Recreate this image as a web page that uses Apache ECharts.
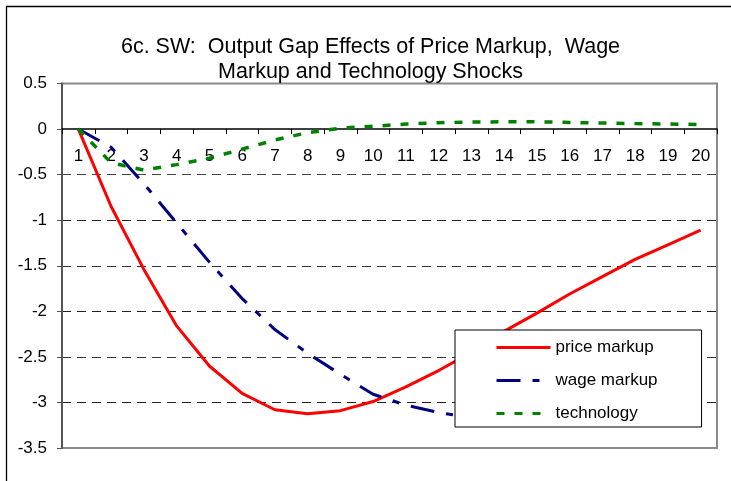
<!DOCTYPE html>
<html>
<head>
<meta charset="utf-8">
<script src="https://cdn.jsdelivr.net/npm/echarts@6/dist/echarts.min.js"></script>
<style>
  html, body { margin: 0; padding: 0; background: #fff; }
  #main { width: 731px; height: 481px; }
</style>
</head>
<body>
<div id="main"></div>
<script>
// quarters after the shock
var periods = ['1', '2', '3', '4', '5', '6', '7', '8', '9', '10',
  '11', '12', '13', '14', '15', '16', '17', '18', '19', '20'];

// output gap responses
var priceMarkup = [0, -0.85, -1.54, -2.16, -2.60, -2.90, -3.08, -3.125, -3.09, -2.99,
  -2.83, -2.65, -2.45, -2.22, -2.02, -1.81, -1.62, -1.43, -1.27, -1.11];
var wageMarkup = [0, -0.20, -0.60, -1.03, -1.46, -1.86, -2.20, -2.46, -2.69, -2.91,
  -3.03, -3.11, -3.17, -3.20, -3.20, -3.17, -3.12, -3.05, -2.97, -2.88];
var technology = [0, -0.37, -0.45, -0.39, -0.32, -0.22, -0.12, -0.04, 0.01, 0.03,
  0.055, 0.07, 0.077, 0.08, 0.08, 0.072, 0.066, 0.06, 0.055, 0.05];

var yTicks = { min: -3.5, max: 0.5, step: 0.5 };

var chart = echarts.init(document.getElementById('main'));

var font = 'Arial, "Liberation Sans", sans-serif';
var clear = 'rgba(0,0,0,0)';

// plot box in pixels
var gridTop = 83.5, gridBottom = 33;
var plotH = 481 - gridTop - gridBottom;
// lift the category axis up to the zero line
var zeroOffset = plotH * (0 - yTicks.min) / (yTicks.max - yTicks.min);

var option = {
  animation: false,
  backgroundColor: '#fff',
  textStyle: { fontFamily: font },
  title: {
    text: '6c. SW:  Output Gap Effects of Price Markup,  Wage\nMarkup and Technology Shocks',
    left: 365.5,
    top: 30,
    textAlign: 'center',
    textStyle: {
      fontFamily: font,
      fontSize: 21.5,
      fontWeight: 'normal',
      color: '#000',
      lineHeight: 24.5
    }
  },
  graphic: [{
    type: 'rect',
    shape: { x: 6.5, y: 6.5, width: 760, height: 520 },
    style: { fill: null, stroke: '#000', lineWidth: 1.3 },
    silent: true,
    z: -1
  }],
  legend: {
    orient: 'vertical',
    left: 455,
    top: 330,
    padding: [9, 44, 5, 40],
    itemWidth: 54,
    itemHeight: 14,
    itemGap: 16,
    backgroundColor: '#fff',
    borderColor: '#000',
    borderWidth: 1,
    itemStyle: { opacity: 0 },
    lineStyle: { width: 3 },
    textStyle: { fontFamily: font, fontSize: 17, color: '#000', lineHeight: 16 },
    data: ['price markup', 'wage markup', 'technology']
  },
  grid: {
    left: 62,
    right: 14,
    top: gridTop,
    bottom: gridBottom,
    show: true,
    borderColor: '#8a8a8a',
    borderWidth: 2
  },
  xAxis: {
    type: 'category',
    data: periods,
    boundaryGap: true,
    offset: -zeroOffset,
    axisLine: { onZero: false, lineStyle: { color: '#000', width: 1.5 } },
    axisTick: { show: true, length: 5, lineStyle: { color: '#000', width: 1 } },
    axisLabel: { fontFamily: font, fontSize: 17, color: '#000', margin: 19 },
    splitLine: { show: false }
  },
  yAxis: {
    type: 'value',
    min: yTicks.min,
    max: yTicks.max,
    interval: yTicks.step,
    axisLine: { show: true, lineStyle: { color: '#555', width: 2 } },
    axisTick: { show: true, length: 5, lineStyle: { color: '#555' } },
    axisLabel: { fontFamily: font, fontSize: 17, color: '#000', margin: 15 },
    splitLine: {
      show: true,
      lineStyle: {
        type: [9, 6],
        width: 1,
        color: [clear, '#222', '#333', '#222', '#333', '#222', '#444', clear, clear]
      }
    }
  },
  series: [{
    name: 'price markup',
    type: 'line',
    data: priceMarkup,
    symbol: 'none',
    lineStyle: { color: '#ff0000', width: 3 },
    itemStyle: { color: '#ff0000' },
    z: 3
  }, {
    name: 'wage markup',
    type: 'line',
    data: wageMarkup,
    symbol: 'none',
    lineStyle: { color: '#000080', width: 3, type: [24, 12, 7, 12], cap: 'butt' },
    itemStyle: { color: '#000080' },
    z: 3
  }, {
    name: 'technology',
    type: 'line',
    data: technology,
    symbol: 'none',
    lineStyle: { color: '#008000', width: 3.5, type: [8, 10], cap: 'butt' },
    itemStyle: { color: '#008000' },
    z: 3
  }]
};

chart.setOption(option);
</script>
</body>
</html>
